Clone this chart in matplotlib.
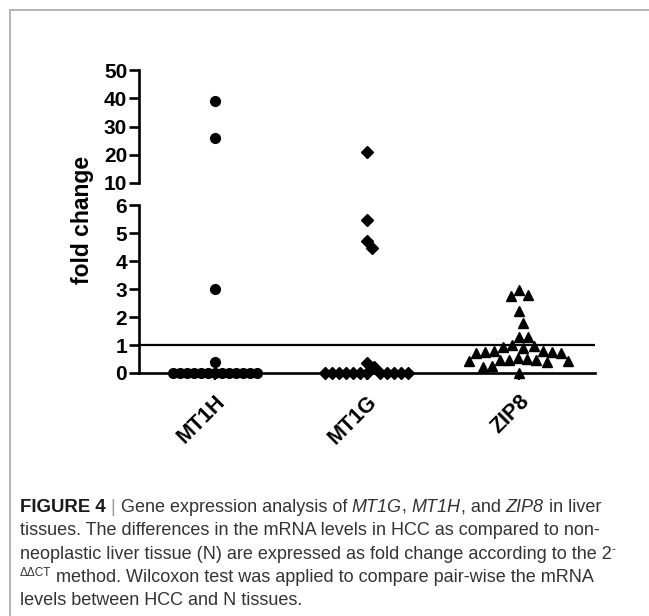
import matplotlib.pyplot as plt
from matplotlib.lines import Line2D
from matplotlib.font_manager import FontProperties
import numpy as np

plt.rcParams['font.family'] = ['Liberation Sans', 'DejaVu Sans']

# data
genes = ['MT1H', 'MT1G', 'ZIP8']
mt1h = [39.0, 26.0, 3.0, 0.4] + [0.0] * 13
mt1g = [21.0, 5.45, 4.7, 4.45, 0.35, 0.2] + [0.0] * 12
zip8 = [2.8, 2.75, 2.95, 2.2, 1.8, 1.3, 1.3,
        0.95, 1.0, 0.92, 0.9,
        0.75, 0.78, 0.72, 0.8, 0.7, 0.76,
        0.45, 0.5, 0.42, 0.48, 0.52, 0.4, 0.46, 0.44,
        0.25, 0.22, 0.0]
series = [mt1h, mt1g, zip8]
markers = ['o', 'D', '^']
msizes = [7, 6, 7.5]
gaps = [7, 7, 9]
lower_ticks = [0, 1, 2, 3, 4, 5, 6]
upper_ticks = [10, 20, 30, 40, 50]
brk = 6


def swarm(ax, xc, vals, min_px):
    # spread points sideways so they do not sit on top of each other
    tr = ax.transData
    x0 = tr.transform((xc, 0))[0]
    ypix = [tr.transform((xc, v))[1] for v in vals]
    placed = []
    xs = np.zeros(len(vals))
    for i in np.argsort(-np.asarray(vals), kind='stable'):
        y = ypix[i]
        k = 0
        found = None
        while found is None:
            for off in ([0.0] if k == 0 else [k, -k]):
                if all((off - px) ** 2 + ((y - py) * 0.75) ** 2 >= min_px ** 2
                       for px, py in placed):
                    found = off
                    break
            k += 1
        placed.append((found, y))
        xs[i] = tr.inverted().transform((x0 + found, y))[0]
    return xs


fig = plt.figure(figsize=(6.49, 6.16), dpi=100)

# frame of the figure panel
fig.add_artist(Line2D([10/649, 1], [1 - 10/616, 1 - 10/616], color='#b4b4b4', lw=1.4))
fig.add_artist(Line2D([10/649, 10/649], [0, 1 - 10/616], color='#b4b4b4', lw=1.4))

left, width = 139/649, 456/649
ax = fig.add_axes([left, 1 - 373/616, width, 168/616])
ax2 = fig.add_axes([left, 1 - 183/616, width, 113/616])

for a in (ax, ax2):
    a.set_xlim(0.5, 3.5)
    a.patch.set_alpha(0)
    for s in ['top', 'right']:
        a.spines[s].set_visible(False)
    a.spines['left'].set_linewidth(1.9)
    a.tick_params(axis='y', direction='out', length=7, width=1.9, pad=1.5,
                  labelsize=15)
    a.tick_params(axis='y', which='minor', direction='in', length=4.5, width=1.9)

ax.set_ylim(0, brk)
ax.spines['left'].set_bounds(0, brk)
ax.spines['bottom'].set_linewidth(1.9)
ax.set_yticks(lower_ticks)
ax.set_yticks([brk], minor=True)
ax.axhline(1, color='black', lw=1.6, zorder=1)
ax.set_xticks([1, 2, 3])
ax.set_xticklabels(genes, rotation=45, ha='right', rotation_mode='anchor',
                   fontsize=15.5, fontweight='bold')
ax.tick_params(axis='x', direction='out', length=5, width=1.6, pad=8)

ax2.set_ylim(10, 50)
ax2.spines['left'].set_bounds(10, 50)
ax2.spines['bottom'].set_visible(False)
ax2.set_yticks(upper_ticks)
ax2.set_yticks([10], minor=True)
ax2.set_xticks([])

for a in (ax, ax2):
    for lab in a.get_yticklabels():
        lab.set_fontweight('bold')

for i, vals in enumerate(series):
    vals = np.array(vals)
    low = vals[vals <= brk]
    high = vals[vals > brk]
    for a, part in ((ax, low), (ax2, high)):
        if len(part) == 0:
            continue
        xs = swarm(a, i + 1, part, gaps[i])
        a.plot(xs, part, linestyle='none', marker=markers[i], ms=msizes[i],
               color='black', clip_on=False, zorder=3)

fig.text(82/649, 1 - 220/616, 'fold change', rotation=90, ha='center', va='center',
         fontsize=16.5, fontweight='bold')

# caption, drawn piece by piece so bold / italic / superscript can mix
renderer = fig.canvas.get_renderer()
cap_size = 13.0
R = dict()
B = dict(weight='bold', color='#1a1a1a', size=13.4)
I = dict(style='italic')
G = dict(color='#9a9a9a')
S = dict(size=8.5, dy=6)

caption = [
    [('FIGURE 4', B), (' ', R), ('|', G), (' Gene expression analysis of ', R), ('MT1G', I),
     (', ', R), ('MT1H', I), (', and ', R), ('ZIP8', I), (' in liver', R)],
    [('tissues. The differences in the mRNA levels in HCC as compared to non-', R)],
    [('neoplastic liver tissue (N) are expressed as fold change according to the 2', R),
     ('-', S)],
    [('\u0394\u0394CT', S), (' method. Wilcoxon test was applied to compare pair-wise the mRNA', R)],
    [('levels between HCC and N tissues.', R)],
]


def text_width(s, prop):
    w1 = renderer.get_text_width_height_descent('|' + s + '|', prop, ismath=False)[0]
    w0 = renderer.get_text_width_height_descent('||', prop, ismath=False)[0]
    return w1 - w0


for k, parts in enumerate(caption):
    x = 20.0
    base = 512 + 23.3 * k
    for txt, st in parts:
        prop = FontProperties(family=['Liberation Sans', 'DejaVu Sans'],
                              size=st.get('size', cap_size),
                              weight=st.get('weight', 'normal'),
                              style=st.get('style', 'normal'))
        fig.text(x / 649, 1 - (base - st.get('dy', 0)) / 616, txt, ha='left', va='baseline',
                 fontproperties=prop, color=st.get('color', '#333333'))
        x += text_width(txt, prop)

fig.savefig('out.png', dpi=100)
